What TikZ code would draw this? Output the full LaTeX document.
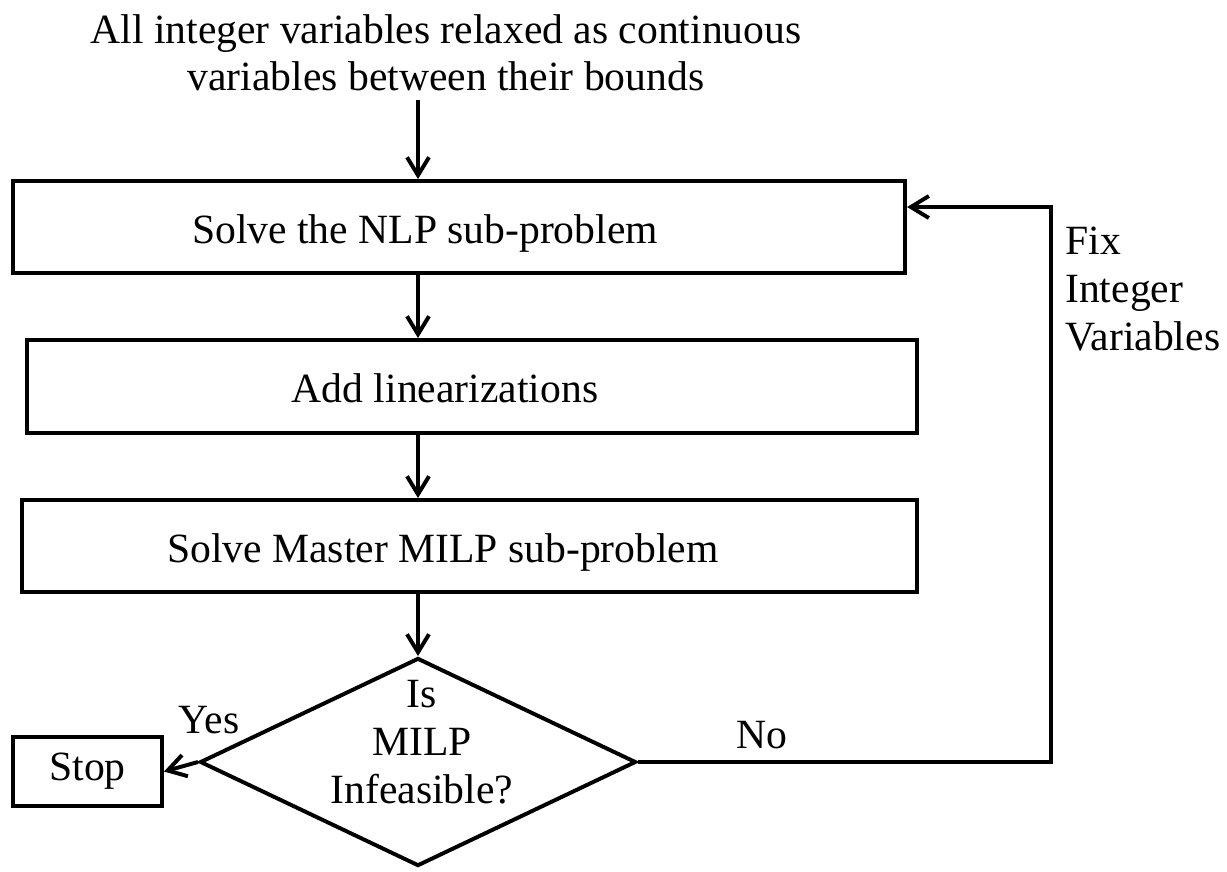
\documentclass[tikz,border=0pt]{standalone}
\usepackage{fontspec}
\setmainfont{Liberation Serif}
\usetikzlibrary{arrows.meta,shapes.geometric}

\begin{document}
\begin{tikzpicture}[x=0.025cm, y=-0.025cm,
   every node/.style={font=\fontsize{29.6}{34}\selectfont},
   box/.style={draw, line width=2.8pt, inner sep=0pt},
   txt/.style={inner sep=0pt},
   flow/.style={line width=2.8pt, -{Straight Barb[length=4.5mm, width=5.5mm]}}]
   \useasboundingbox (0,0) rectangle (1227,871);

   % steps of the loop
   \node[txt, align=center, anchor=north] (intro) at (446,14) {All integer variables relaxed as continuous\\variables between their bounds};
   \node[box, minimum width=22.3cm, minimum height=2.3cm] (nlp) at (459,227) {};
   \node[txt, anchor=base] (nlptext) at (425,243) {Solve the NLP sub-problem};
   \node[box, minimum width=22.25cm, minimum height=2.325cm] (lin) at (472,386.5) {};
   \node[txt, anchor=base] (lintext) at (445,402) {Add linearizations};
   \node[box, minimum width=22.375cm, minimum height=2.3cm] (milp) at (469.5,546) {};
   \node[txt, anchor=base] (milptext) at (443,562) {Solve Master MILP sub-problem};
   \node[box, diamond, minimum width=10.9cm, minimum height=5.2cm] (ask) at (418,762) {};
   \node[txt, align=center, anchor=north] (asktext) at (422,680) {Is\\MILP\\Infeasible?};
   \node[box, minimum width=3.725cm, minimum height=1.725cm] (stop) at (87.5,771.5) {Stop};

   % branch labels
   \node[txt, anchor=base] (yes) at (209,733) {Yes};
   \node[txt, anchor=base] (no) at (762,748) {No};
   \node[txt, align=left, anchor=north west] (fix) at (1065,227) {Fix\\Integer\\Variables};

   % arrows
   \coordinate (spine) at (418,100);
   \coordinate (turn) at (1051,207);
   \draw[flow] (spine) -- (spine |- nlp.north);
   \draw[flow] (spine |- nlp.south) -- (spine |- lin.north);
   \draw[flow] (spine |- lin.south) -- (spine |- milp.north);
   \draw[flow] (spine |- milp.south) -- (ask.north);
   \draw[flow] (ask.west) -- (stop.east);
   \draw[flow] (ask.east) -| (turn) -- (turn -| nlp.east);
\end{tikzpicture}
\end{document}
